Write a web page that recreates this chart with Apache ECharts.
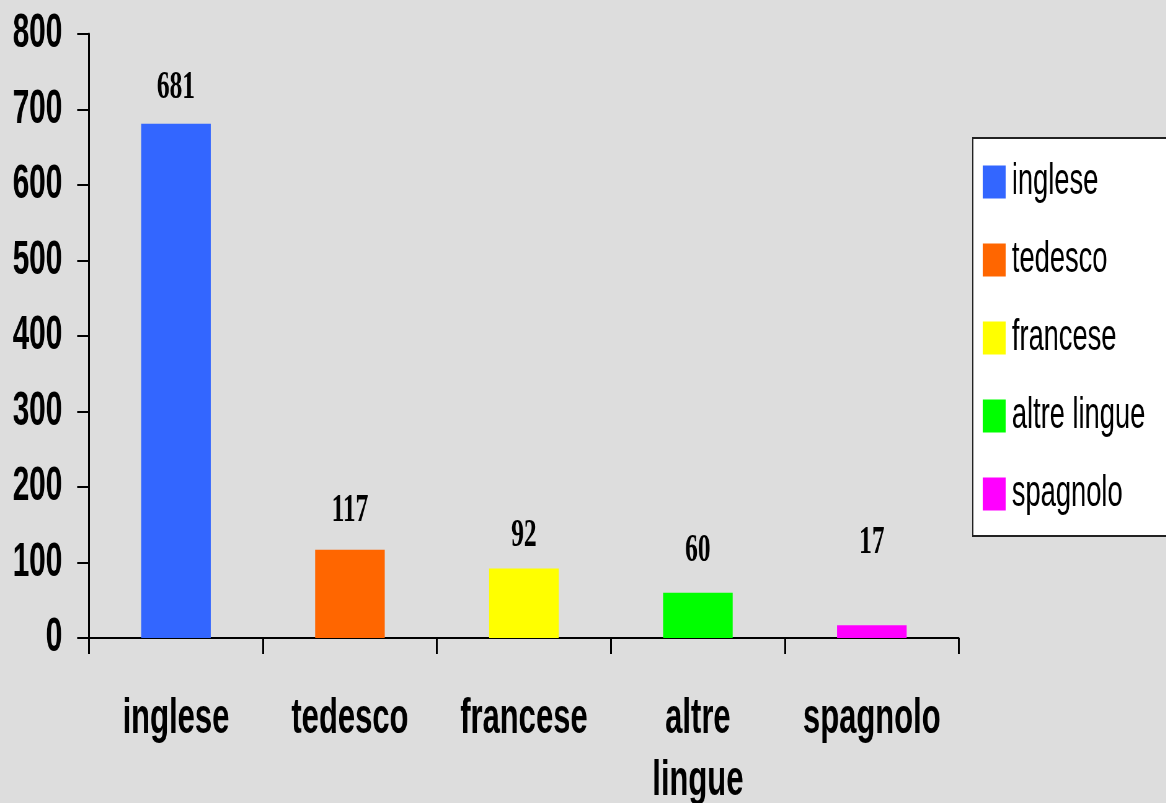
<!DOCTYPE html>
<html>
<head>
<meta charset="utf-8">
<script src="https://cdn.jsdelivr.net/npm/echarts@6/dist/echarts.min.js"></script>
<style>
html,body{margin:0;padding:0;background:#dddddd;overflow:hidden;width:1166px;height:803px;}
#chart{width:1881px;height:803px;transform:scaleX(0.62);transform-origin:0 0;}
</style>
</head>
<body>
<div id="chart"></div>
<script>
const categories = ['inglese', 'tedesco', 'francese', 'altre lingue', 'spagnolo'];
const axisLabels = ['inglese', 'tedesco', 'francese', 'altre\nlingue', 'spagnolo'];
const values = [681, 117, 92, 60, 17];
const colors = ['#3366ff', '#ff6600', '#ffff00', '#00ff00', '#ff00ff'];
const labelGap = [16, 19, 13, 22, 62];
const yTicks = { min: 0, max: 800, interval: 100 };

const chart = echarts.init(document.getElementById('chart'));

const series = categories.map((name, i) => ({
  name: name,
  type: 'bar',
  barWidth: '40%',
  barGap: '-100%',
  itemStyle: { color: colors[i] },
  label: {
    show: true,
    position: 'top',
    distance: labelGap[i],
    fontFamily: 'Liberation Serif',
    fontWeight: 'bold',
    fontSize: 41,
    lineHeight: 41,
    color: '#000'
  },
  data: categories.map((c, j) => (j === i ? values[i] : '-'))
}));

chart.setOption({
  backgroundColor: '#dddddd',
  animation: false,
  grid: { left: 143.5, width: 1403, top: 34, height: 604, outerBoundsMode: 'none', containLabel: false },
  legend: {
    orient: 'vertical',
    left: 1569,
    top: 138,
    padding: [22, 120, 20, 16],
    itemGap: 34,
    itemWidth: 37,
    itemHeight: 33,
    icon: 'rect',
    backgroundColor: '#ffffff',
    borderColor: '#222',
    borderWidth: 2,
    borderRadius: 0,
    data: categories,
    textStyle: {
      fontFamily: 'Liberation Sans',
      fontSize: 44,
      lineHeight: 44,
      padding: [0, 0, 0, 5],
      color: '#000'
    }
  },
  xAxis: {
    type: 'category',
    data: axisLabels,
    axisLine: { lineStyle: { color: '#000', width: 2 } },
    axisTick: { show: true, length: 16, lineStyle: { color: '#000', width: 3 } },
    axisLabel: {
      margin: 50,
      fontFamily: 'Liberation Sans',
      fontWeight: 'bold',
      fontSize: 50,
      lineHeight: 62,
      color: '#000',
      interval: 0
    }
  },
  yAxis: {
    type: 'value',
    min: yTicks.min,
    max: yTicks.max,
    interval: yTicks.interval,
    splitLine: { show: false },
    axisLine: { show: true, lineStyle: { color: '#000', width: 3 } },
    axisTick: { show: true, length: 19, lineStyle: { color: '#000', width: 2 } },
    axisLabel: {
      margin: 43,
      fontFamily: 'Liberation Sans',
      fontWeight: 'bold',
      fontSize: 48,
      color: '#000'
    }
  },
  series: series
});
</script>
</body>
</html>
